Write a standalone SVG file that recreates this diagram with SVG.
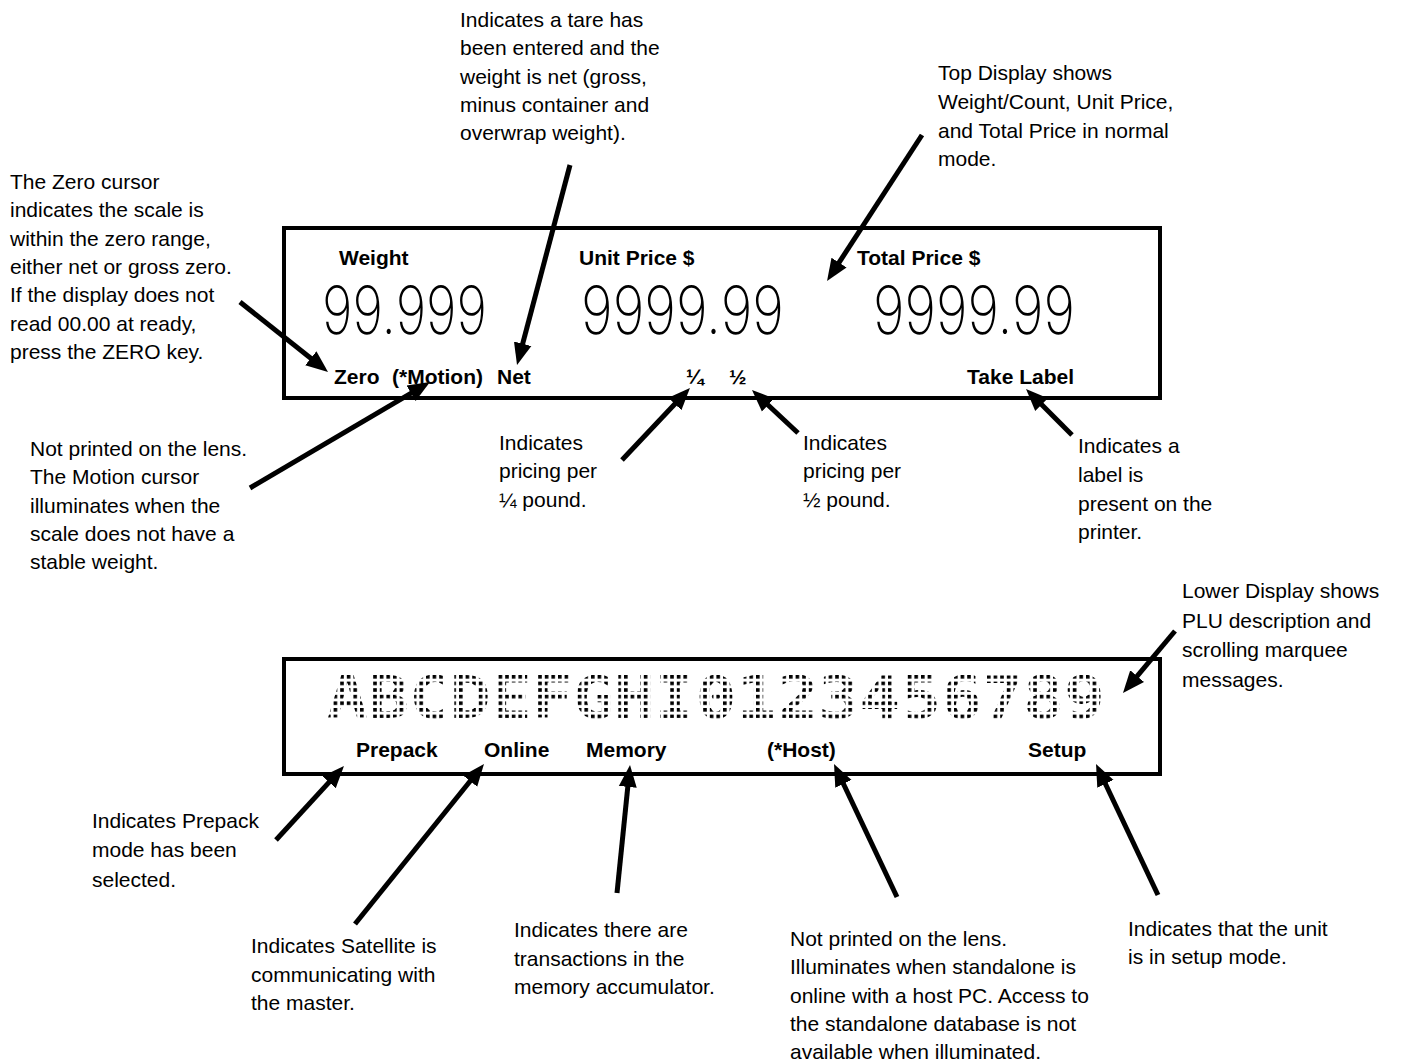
<svg xmlns="http://www.w3.org/2000/svg" width="1402" height="1063" viewBox="0 0 1402 1063">
<style>
.note{font-family:"Liberation Sans",Arial,sans-serif;font-size:21px;fill:#000}
.lbl{font-family:"Liberation Sans",Arial,sans-serif;font-size:21px;font-weight:bold;fill:#000}
.seg{font-family:Inter,"DejaVu Sans",sans-serif;font-weight:200;font-size:67px;fill:#000}
.dot{font-family:"DejaVu Sans Mono","Liberation Mono",monospace;font-weight:bold;font-size:59px;fill:#000}
.box{fill:none;stroke:#000;stroke-width:4}
.arr{stroke:#000;stroke-width:5;fill:none;marker-end:url(#ah)}
</style>
<defs>
<marker id="ah" markerUnits="userSpaceOnUse" markerWidth="24" markerHeight="20" viewBox="0 -10 24 20" refX="12" refY="0" orient="auto"><path d="M0,-9 L22,0 L0,9 z" fill="#000"/></marker>
<pattern id="dp" patternUnits="userSpaceOnUse" x="327" y="675" width="6.6" height="6.6"><rect width="3.6" height="3.6" fill="#fff"/></pattern>
<mask id="dm" maskUnits="userSpaceOnUse" x="0" y="0" width="1402" height="1063"><rect x="300" y="660" width="830" height="70" fill="url(#dp)"/></mask>
</defs>
<rect width="1402" height="1063" fill="#fff"/>

<g id="top-display">
<rect class="box" x="284" y="228" width="876" height="170"/>
<text class="lbl" x="339" y="265">Weight</text>
<text class="lbl" x="579" y="265">Unit Price $</text>
<text class="lbl" x="857" y="265">Total Price $</text>
<text class="seg" x="322" y="334" textLength="165" lengthAdjust="spacingAndGlyphs">99.999</text>
<text class="seg" x="581" y="334" textLength="203" lengthAdjust="spacingAndGlyphs">9999.99</text>
<text class="seg" x="873" y="334" textLength="202" lengthAdjust="spacingAndGlyphs">9999.99</text>
<text class="lbl" x="334" y="384">Zero</text>
<text class="lbl" x="392" y="384">(*Motion)</text>
<text class="lbl" x="497" y="384">Net</text>
<text class="lbl" x="686" y="384">¼</text>
<text class="lbl" x="729" y="384">½</text>
<text class="lbl" x="967" y="384">Take Label</text>
</g>

<g id="lower-display">
<rect class="box" x="284" y="659" width="876" height="115"/>
<text class="dot" x="327" y="718" textLength="778" lengthAdjust="spacingAndGlyphs" mask="url(#dm)">ABCDEFGHI0123456789</text>
<text class="lbl" x="356" y="757">Prepack</text>
<text class="lbl" x="484" y="757">Online</text>
<text class="lbl" x="586" y="757">Memory</text>
<text class="lbl" x="767" y="757">(*Host)</text>
<text class="lbl" x="1028" y="757">Setup</text>
</g>

<g id="note-zero"><text class="note" x="10" y="189"><tspan x="10">The Zero cursor</tspan><tspan x="10" dy="28.3">indicates the scale is</tspan><tspan x="10" dy="28.3">within the zero range,</tspan><tspan x="10" dy="28.3">either net or gross zero.</tspan><tspan x="10" dy="28.3">If the display does not</tspan><tspan x="10" dy="28.3">read 00.00 at ready,</tspan><tspan x="10" dy="28.3">press the ZERO key.</tspan></text></g>
<g id="note-tare"><text class="note" x="460" y="27"><tspan x="460">Indicates a tare has</tspan><tspan x="460" dy="28.3">been entered and the</tspan><tspan x="460" dy="28.3">weight is net (gross,</tspan><tspan x="460" dy="28.3">minus container and</tspan><tspan x="460" dy="28.3">overwrap weight).</tspan></text></g>
<g id="note-top"><text class="note" x="938" y="80"><tspan x="938">Top Display shows</tspan><tspan x="938" dy="28.8">Weight/Count, Unit Price,</tspan><tspan x="938" dy="28.8">and Total Price in normal</tspan><tspan x="938" dy="28.8">mode.</tspan></text></g>
<g id="note-motion"><text class="note" x="30" y="456"><tspan x="30">Not printed on the lens.</tspan><tspan x="30" dy="28.3">The Motion cursor</tspan><tspan x="30" dy="28.3">illuminates when the</tspan><tspan x="30" dy="28.3">scale does not have a</tspan><tspan x="30" dy="28.3">stable weight.</tspan></text></g>
<g id="note-quarter"><text class="note" x="499" y="450"><tspan x="499">Indicates</tspan><tspan x="499" dy="28.3">pricing per</tspan><tspan x="499" dy="28.3">¼ pound.</tspan></text></g>
<g id="note-half"><text class="note" x="803" y="450"><tspan x="803">Indicates</tspan><tspan x="803" dy="28.3">pricing per</tspan><tspan x="803" dy="28.3">½ pound.</tspan></text></g>
<g id="note-label"><text class="note" x="1078" y="453"><tspan x="1078">Indicates a</tspan><tspan x="1078" dy="28.8">label is</tspan><tspan x="1078" dy="28.8">present on the</tspan><tspan x="1078" dy="28.8">printer.</tspan></text></g>
<g id="note-lower"><text class="note" x="1182" y="598"><tspan x="1182">Lower Display shows</tspan><tspan x="1182" dy="29.5">PLU description and</tspan><tspan x="1182" dy="29.5">scrolling marquee</tspan><tspan x="1182" dy="29.5">messages.</tspan></text></g>
<g id="note-prepack"><text class="note" x="92" y="828"><tspan x="92">Indicates Prepack</tspan><tspan x="92" dy="29.3">mode has been</tspan><tspan x="92" dy="29.3">selected.</tspan></text></g>
<g id="note-satellite"><text class="note" x="251" y="953"><tspan x="251">Indicates Satellite is</tspan><tspan x="251" dy="28.5">communicating with</tspan><tspan x="251" dy="28.5">the master.</tspan></text></g>
<g id="note-memory"><text class="note" x="514" y="937"><tspan x="514">Indicates there are</tspan><tspan x="514" dy="28.5">transactions in the</tspan><tspan x="514" dy="28.5">memory accumulator.</tspan></text></g>
<g id="note-host"><text class="note" x="790" y="946"><tspan x="790">Not printed on the lens.</tspan><tspan x="790" dy="28.3">Illuminates when standalone is</tspan><tspan x="790" dy="28.3">online with a host PC. Access to</tspan><tspan x="790" dy="28.3">the standalone database is not</tspan><tspan x="790" dy="28.3">available when illuminated.</tspan></text></g>
<g id="note-setup"><text class="note" x="1128" y="936"><tspan x="1128">Indicates that the unit</tspan><tspan x="1128" dy="28.3">is in setup mode.</tspan></text></g>

<g id="connectors">
<line class="arr" x1="240" y1="302" x2="320.2" y2="365.8"/>
<line class="arr" x1="570" y1="165" x2="519.6" y2="355.3"/>
<line class="arr" x1="922" y1="135" x2="832.5" y2="272.6"/>
<line class="arr" x1="250" y1="488" x2="421.4" y2="387.1"/>
<line class="arr" x1="622" y1="460" x2="683.1" y2="395.3"/>
<line class="arr" x1="798" y1="433" x2="759.3" y2="396.8"/>
<line class="arr" x1="1072" y1="435" x2="1033.1" y2="396.1"/>
<line class="arr" x1="1175" y1="631" x2="1129.4" y2="685.3"/>
<line class="arr" x1="276" y1="840" x2="337.2" y2="773.4"/>
<line class="arr" x1="355" y1="924" x2="477.7" y2="771.8"/>
<line class="arr" x1="617" y1="893" x2="629.0" y2="775.0"/>
<line class="arr" x1="897" y1="897" x2="838.3" y2="773.0"/>
<line class="arr" x1="1158" y1="895" x2="1100.3" y2="773.0"/>
</g>
</svg>
